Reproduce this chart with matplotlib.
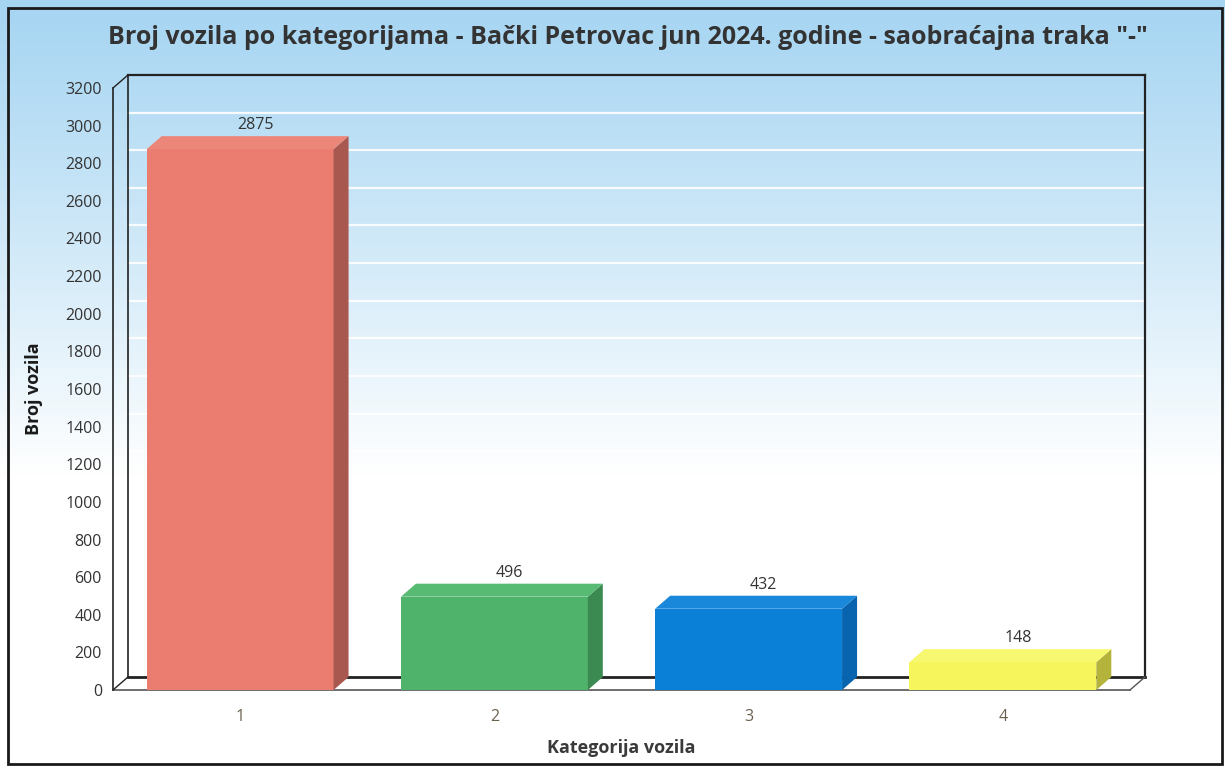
import numpy as np
import matplotlib
matplotlib.use("Agg")
from matplotlib import pyplot as plt
from matplotlib.patches import Polygon, Rectangle

# data
categories = ["1", "2", "3", "4"]
values = [2875, 496, 432, 148]
front_colors = ["#ea7d70", "#4fb36b", "#0a80d6", "#f6f65c"]
side_colors = ["#a9584f", "#3b8a52", "#0864ae", "#b4b43c"]
top_colors = ["#ec8679", "#58bb73", "#1a88da", "#f8f870"]
yticks = list(range(0, 3201, 200))

title = 'Broj vozila po kategorijama - Bački Petrovac jun 2024. godine - saobraćajna traka "-"'

plt.rcParams['font.family'] = ['Open Sans', 'DejaVu Sans']

W, H = 1225, 767
fig = plt.figure(figsize=(W / 100, H / 100), dpi=100)

# background gradient
bg = fig.add_axes([0, 0, 1, 1], zorder=0)
rows = np.linspace(0, 1, 400)
top = np.array([166, 213, 242]) / 255
t = np.clip(rows / 0.62, 0, 1) ** 1.1
grad = top[None, :] * (1 - t[:, None]) + np.ones(3)[None, :] * t[:, None]
bg.imshow(grad[:, None, :], aspect='auto', extent=[0, 1, 0, 1], origin='upper')
bg.add_patch(Rectangle((8 / W, 3 / H), 1214 / W, 756 / H, fill=False,
                       edgecolor='#1a1a1a', linewidth=2))
bg.set_xlim(0, 1)
bg.set_ylim(0, 1)
bg.axis('off')

# plot area in pixels
x0p, x1p, y0p, y1p = 113, 1130, 690, 88
ax = fig.add_axes([x0p / W, (H - y0p) / H, (x1p - x0p) / W, (y0p - y1p) / H], zorder=1)
ax.patch.set_alpha(0)
ax.set_xlim(0.5, 4.5)
ax.set_ylim(0, 3200)

dx = 15 / ((x1p - x0p) / 4.0)
dy = 13 / ((y0p - y1p) / 3200.0)

# back wall gridlines
for v in yticks[1:-1]:
    ax.plot([0.5 + dx, 4.5 + dx], [v + dy, v + dy], color='white', lw=1.6, alpha=0.9,
            zorder=1, clip_on=False)

# box lines
edge = '#222222'
ax.plot([0.5 + dx, 4.5 + dx], [3200 + dy, 3200 + dy], color=edge, lw=1.6, clip_on=False, zorder=2)
ax.plot([0.5 + dx, 0.5 + dx], [dy, 3200 + dy], color=edge, lw=1.2, clip_on=False, zorder=2)
ax.plot([4.5 + dx, 4.5 + dx], [dy, 3200 + dy], color=edge, lw=1.6, clip_on=False, zorder=2)
ax.plot([0.5, 0.5], [0, 3200], color=edge, lw=1.2, clip_on=False, zorder=2)
ax.plot([0.5, 0.5 + dx], [3200, 3200 + dy], color=edge, lw=1.0, clip_on=False, zorder=2)
# floor
ax.add_patch(Polygon([(0.5, 0), (4.5, 0), (4.5 + dx, dy), (0.5 + dx, dy)], closed=True,
                     facecolor='white', edgecolor='none', clip_on=False, zorder=2))
ax.plot([0.5 + dx, 4.5 + dx], [dy, dy], color=edge, lw=2, clip_on=False, zorder=2)
ax.plot([0.5, 4.5], [0, 0], color='#555555', lw=1.2, clip_on=False, zorder=2)
ax.plot([0.5, 0.5 + dx], [0, dy], color=edge, lw=1.0, clip_on=False, zorder=2)
ax.plot([4.5, 4.5 + dx], [0, dy], color='#555555', lw=1.0, clip_on=False, zorder=2)

# bars
bw = 0.735
xs = np.arange(1, len(values) + 1)
ax.bar(xs, values, width=bw, color=front_colors, zorder=3, clip_on=False)
for x, v, sc, tc in zip(xs, values, side_colors, top_colors):
    l, r = x - bw / 2, x + bw / 2
    ax.add_patch(Polygon([(r, 0), (r, v), (r + dx, v + dy), (r + dx, dy)], closed=True,
                         facecolor=sc, edgecolor='none', zorder=3, clip_on=False))
    ax.add_patch(Polygon([(l, v), (r, v), (r + dx, v + dy), (l + dx, v + dy)], closed=True,
                         facecolor=tc, edgecolor='none', zorder=3, clip_on=False))
    ax.text(x + dx, v + dy + 15, str(v), ha='center', va='bottom', fontsize=11.5,
            color='#333333', zorder=4)

for s in ax.spines.values():
    s.set_visible(False)
ax.set_yticks(yticks)
ax.set_yticklabels([str(v) for v in yticks])
ax.set_xticks(xs)
ax.set_xticklabels(categories)
ax.tick_params(axis='y', length=0, pad=8, labelsize=11.5, labelcolor='#333333')
ax.tick_params(axis='x', length=0, pad=14, labelsize=11.5, labelcolor='#6b6050')

ax.set_ylabel('Broj vozila', fontsize=13, fontweight='bold', color='#1a1a1a', labelpad=16)
ax.set_xlabel('Kategorija vozila', fontsize=13, fontweight='bold', color='#3a3a3a', labelpad=10)

fig.text(628 / W, 1 - 38 / H, title, ha='center', va='center', fontsize=18,
         fontweight='bold', color='#333333')

fig.savefig('out.png', dpi=100)
